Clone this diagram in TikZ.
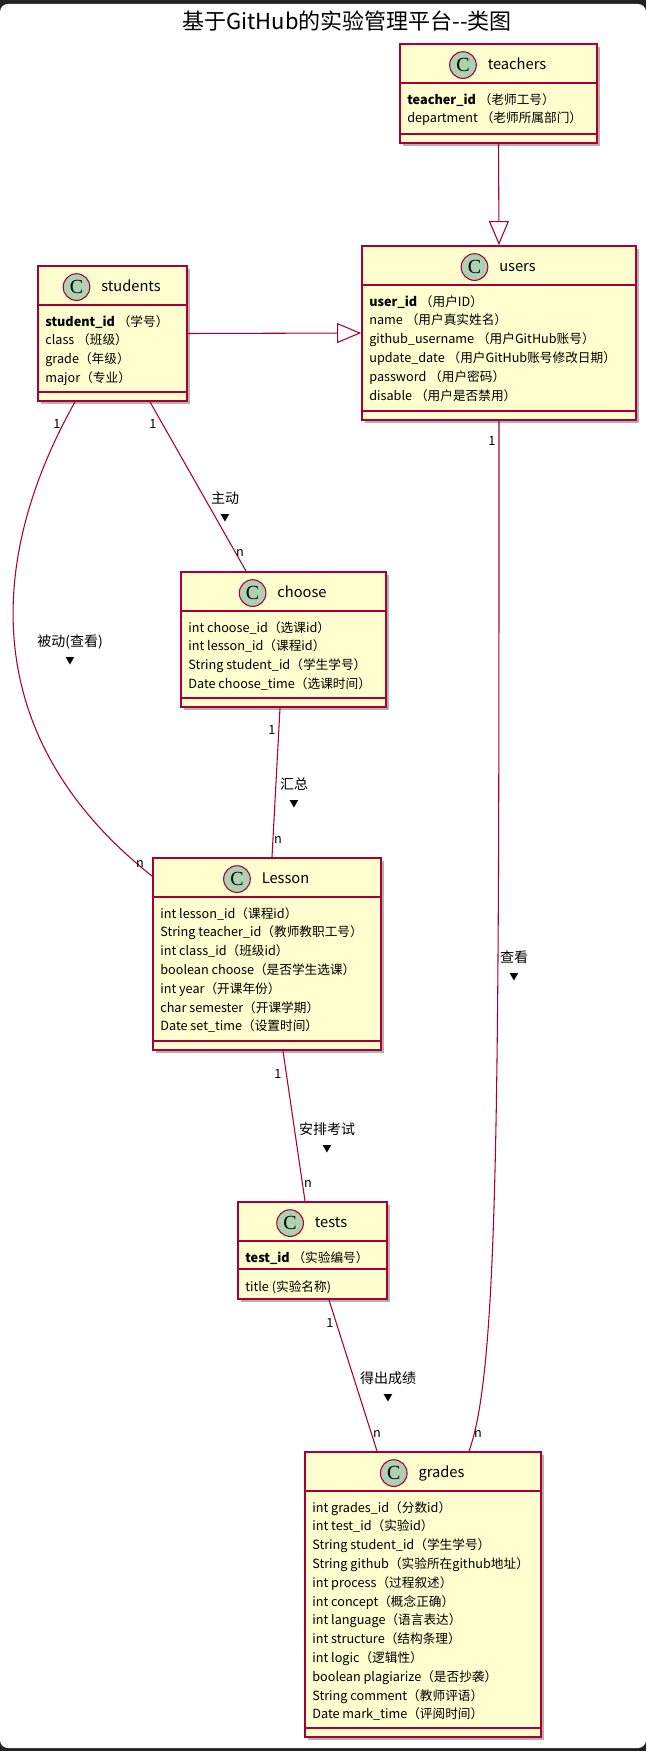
\documentclass[tikz,border=0pt]{standalone}
\usepackage{fontspec}
\setmainfont{Noto Sans CJK SC}
\newfontfamily\cfont{Liberation Serif}
\usetikzlibrary{arrows.meta, positioning, calc, shadows}
\definecolor{umlred}{HTML}{A80036}
\definecolor{umlfill}{HTML}{FEFECE}
\definecolor{cgreen}{HTML}{ADD1B2}
\definecolor{framedark}{HTML}{222222}
\tikzset{
	classbox/.style={rectangle, draw=umlred, fill=umlfill, line width=1.4pt, inner sep=0pt,
		drop shadow={shadow xshift=2.5pt, shadow yshift=-2.5pt, fill=black, opacity=0.3}},
	sepline/.style={draw=umlred, line width=1.1pt},
	cmark/.style={circle, draw=umlred, fill=cgreen, line width=0.8pt, minimum size=20pt, inner sep=0pt,
		font=\cfont\fontsize{15}{15}\selectfont},
	headtext/.style={inner sep=0pt, text height=8pt, text depth=1pt, font=\fontsize{11}{13}\selectfont},
	fieldtext/.style={inner sep=0pt, anchor=north west, align=left, font=\fontsize{9.5}{14.1}\selectfont},
	assoc/.style={draw=umlred, line width=0.8pt},
	ext/.style={assoc, -{Triangle[open, length=18pt, width=15pt]}},
	mult/.style={inner sep=0pt, font=\fontsize{9.5}{11}\selectfont},
	rellabel/.style={inner sep=0pt, align=center, font=\fontsize{10.5}{13.5}\selectfont},
	titletext/.style={inner sep=0pt, font=\fontsize{16.5}{19}\selectfont}
}
\newcommand{\dnmark}{{\fontsize{7}{7}\selectfont ▼}}

\begin{document}
\begin{tikzpicture}[x=0.75pt, y=-0.75pt]
    % Frame
    \useasboundingbox (0,0) rectangle (646,1751);
    \fill[framedark] (0,0) rectangle (646,1751);
    \fill[white, rounded corners=6pt] (0,4) rectangle (646,1748);
    \node[titletext] (title) at (347,21) {基于GitHub的实验管理平台-{}-类图};

    % Classes
    \node[classbox, minimum width=147.75pt, minimum height=74.25pt] (teachers) at (498.5,93.5) {};
    \node[classbox, minimum width=205.5pt, minimum height=130.5pt] (users) at (499,333) {};
    \node[classbox, minimum width=111.75pt, minimum height=101.25pt] (students) at (112.5,333.5) {};
    \node[classbox, minimum width=153.75pt, minimum height=101.25pt] (choose) at (283.5,639.5) {};
    \node[classbox, minimum width=171pt, minimum height=144pt] (Lesson) at (267,954) {};
    \node[classbox, minimum width=111.75pt, minimum height=72.75pt] (tests) at (312.5,1250.5) {};
    \node[classbox, minimum width=177pt, minimum height=213.75pt] (grades) at (423,1594.5) {};

    % Compartments
    \draw[sepline] ($(teachers.north west)+(0,40)$) -- ($(teachers.north east)+(0,40)$);
    \draw[sepline] ($(teachers.south west)+(0,-10)$) -- ($(teachers.south east)+(0,-10)$);
    \draw[sepline] ($(users.north west)+(0,40)$) -- ($(users.north east)+(0,40)$);
    \draw[sepline] ($(users.south west)+(0,-10)$) -- ($(users.south east)+(0,-10)$);
    \draw[sepline] ($(students.north west)+(0,40)$) -- ($(students.north east)+(0,40)$);
    \draw[sepline] ($(students.south west)+(0,-10)$) -- ($(students.south east)+(0,-10)$);
    \draw[sepline] ($(choose.north west)+(0,40)$) -- ($(choose.north east)+(0,40)$);
    \draw[sepline] ($(choose.south west)+(0,-10)$) -- ($(choose.south east)+(0,-10)$);
    \draw[sepline] ($(Lesson.north west)+(0,40)$) -- ($(Lesson.north east)+(0,40)$);
    \draw[sepline] ($(Lesson.south west)+(0,-10)$) -- ($(Lesson.south east)+(0,-10)$);
    \draw[sepline] ($(tests.north west)+(0,40)$) -- ($(tests.north east)+(0,40)$);
    \draw[sepline] ($(tests.north west)+(0,68)$) -- ($(tests.north east)+(0,68)$);
    \draw[sepline] ($(grades.north west)+(0,40)$) -- ($(grades.north east)+(0,40)$);
    \draw[sepline] ($(grades.south west)+(0,-10)$) -- ($(grades.south east)+(0,-10)$);

    % Headers
    \node[headtext] (teachersH) at ($(teachers.north)+(18.5,22)$) {teachers};
    \node[cmark, left=8pt of teachersH] (teachersC) {C};
    \node[headtext] (usersH) at ($(users.north)+(18.5,22)$) {users};
    \node[cmark, left=8pt of usersH] (usersC) {C};
    \node[headtext] (studentsH) at ($(students.north)+(18.5,22)$) {students};
    \node[cmark, left=8pt of studentsH] (studentsC) {C};
    \node[headtext] (chooseH) at ($(choose.north)+(18.5,22)$) {choose};
    \node[cmark, left=8pt of chooseH] (chooseC) {C};
    \node[headtext] (LessonH) at ($(Lesson.north)+(18.5,22)$) {Lesson};
    \node[cmark, left=8pt of LessonH] (LessonC) {C};
    \node[headtext] (testsH) at ($(tests.north)+(18.5,22)$) {tests};
    \node[cmark, left=8pt of testsH] (testsC) {C};
    \node[headtext] (gradesH) at ($(grades.north)+(18.5,22)$) {grades};
    \node[cmark, left=8pt of gradesH] (gradesC) {C};

    % Fields
    \node[fieldtext] (teachersF) at ($(teachers.north west)+(8,50)$)
        {\textbf{teacher\_id} （老师工号）\\department （老师所属部门）};
    \node[fieldtext] (usersF) at ($(users.north west)+(8,50)$)
        {\textbf{user\_id} （用户ID）\\name （用户真实姓名）\\github\_username （用户GitHub账号）\\
         update\_date （用户GitHub账号修改日期）\\password （用户密码）\\disable （用户是否禁用）};
    \node[fieldtext] (studentsF) at ($(students.north west)+(8,50)$)
        {\textbf{student\_id} （学号）\\class （班级）\\grade（年级）\\major（专业）};
    \node[fieldtext] (chooseF) at ($(choose.north west)+(8,50)$)
        {int choose\_id（选课id）\\int lesson\_id（课程id）\\String student\_id（学生学号）\\Date choose\_time（选课时间）};
    \node[fieldtext] (LessonF) at ($(Lesson.north west)+(8,50)$)
        {int lesson\_id（课程id）\\String teacher\_id（教师教职工号）\\int class\_id（班级id）\\
         boolean choose（是否学生选课）\\int year（开课年份）\\char semester（开课学期）\\Date set\_time（设置时间）};
    \node[fieldtext] (testsF) at ($(tests.north west)+(8,50)$) {\textbf{test\_id} （实验编号）};
    \node[fieldtext] (testsM) at ($(tests.north west)+(8,79)$) {title (实验名称)};
    \node[fieldtext] (gradesF) at ($(grades.north west)+(8,50)$)
        {int grades\_id（分数id）\\int test\_id（实验id）\\String student\_id（学生学号）\\
         String github（实验所在github地址）\\int process（过程叙述）\\int concept（概念正确）\\
         int language（语言表达）\\int structure（结构条理）\\int logic（逻辑性）\\
         boolean plagiarize（是否抄袭）\\String comment（教师评语）\\Date mark\_time（评阅时间）};

    % Relations
    \draw[ext] (teachers.south) -- (users.north);
    \draw[ext] (students.east) -- (users.west);
    \draw[assoc] ($(students.south)+(37.5,0)$) -- ($(choose.north)+(-37.5,0)$);
    \draw[assoc] ($(students.south)+(-37.5,0)$) .. controls +(-90,160) and +(-173,-137) .. ($(Lesson.north west)+(0,19)$);
    \draw[assoc] ($(choose.south)+(-3.5,0)$) -- ($(Lesson.north)+(5,0)$);
    \draw[assoc] (users.south) .. controls +(0,680) and +(30,-82) .. ($(grades.north)+(46,0)$);
    \draw[assoc] ($(Lesson.south)+(16,0)$) -- ($(tests.north)+(-7.5,0)$);
    \draw[assoc] ($(tests.south)+(16.5,0)$) -- ($(grades.north)+(-46,0)$);

    % Multiplicities
    \node[mult] (m1a) at (153,424) {1};
    \node[mult] (m1b) at (240,553) {n};
    \node[mult] (m2a) at (57,424) {1};
    \node[mult] (m2b) at (140,864) {n};
    \node[mult] (m3a) at (272,730) {1};
    \node[mult] (m3b) at (278,840) {n};
    \node[mult] (m4a) at (492,441) {1};
    \node[mult] (m4b) at (478,1434) {n};
    \node[mult] (m5a) at (278,1074) {1};
    \node[mult] (m5b) at (308,1184) {n};
    \node[mult] (m6a) at (330,1323) {1};
    \node[mult] (m6b) at (377,1434) {n};

    % Labels
    \node[rellabel] (lbActive) at (225,507) {主动\\\dnmark};
    \node[rellabel] (lbPassive) at (70,650) {被动(查看)\\\dnmark};
    \node[rellabel] (lbSum) at (294,793) {汇总\\\dnmark};
    \node[rellabel] (lbView) at (514,966) {查看\\\dnmark};
    \node[rellabel] (lbExam) at (327,1138) {安排考试\\\dnmark};
    \node[rellabel] (lbScore) at (388,1387) {得出成绩\\\dnmark};
\end{tikzpicture}
\end{document}
